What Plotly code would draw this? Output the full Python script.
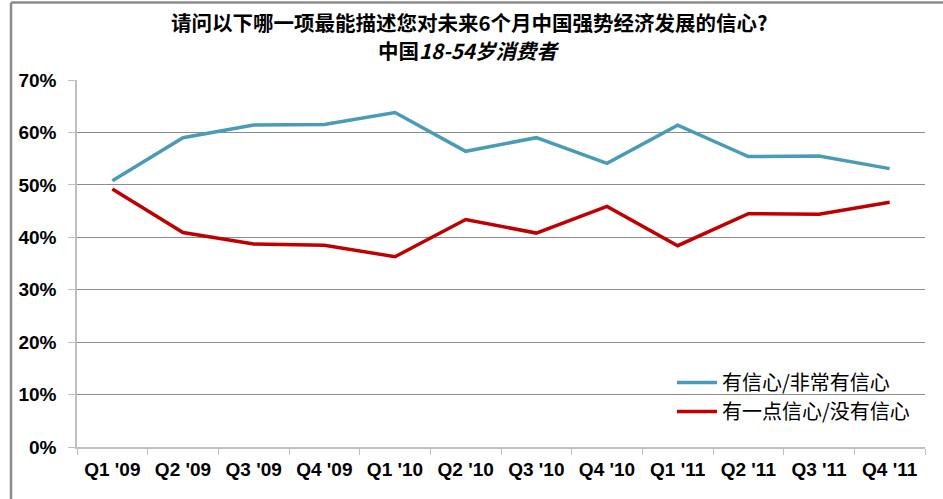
import plotly.graph_objects as go

categories = ["Q1 '09", "Q2 '09", "Q3 '09", "Q4 '09", "Q1 '10", "Q2 '10",
              "Q3 '10", "Q4 '10", "Q1 '11", "Q2 '11", "Q3 '11", "Q4 '11"]
confident = [0.508, 0.590, 0.614, 0.615, 0.638, 0.564, 0.590, 0.541, 0.614, 0.554, 0.555, 0.531]
not_confident = [0.492, 0.409, 0.387, 0.385, 0.363, 0.434, 0.408, 0.459, 0.384, 0.445, 0.444, 0.467]
series_names = ["有信心/非常有信心", "有一点信心/没有信心"]
y_ticks = [0, 0.1, 0.2, 0.3, 0.4, 0.5, 0.6, 0.7]
y_tick_labels = ["0%", "10%", "20%", "30%", "40%", "50%", "60%", "70%"]
title_line1 = "请问以下哪一项最能描述您对未来6个月中国强势经济发展的信心?"
title_line2 = "中国<i>18-54岁消费者</i>"

W, H = 943, 499
L, R, T, B = 77, 18, 80, 52
pw, ph = W - L - R, H - T - B

def px_x(x):
    return (x - L) / pw

def px_y(y):
    return (H - B - y) / ph

fig = go.Figure()
fig.add_trace(go.Scatter(x=categories, y=confident, mode="lines", name=series_names[0],
                         line=dict(color="#4A9BB5", width=3.5)))
fig.add_trace(go.Scatter(x=categories, y=not_confident, mode="lines", name=series_names[1],
                         line=dict(color="#C00000", width=3.5)))

tick_font = dict(family="Liberation Sans, Arial, sans-serif", size=19, color="#000000", weight="bold")

fig.update_layout(
    width=W, height=H,
    margin=dict(l=L, r=R, t=T, b=B),
    paper_bgcolor="white", plot_bgcolor="white",
    showlegend=True,
    legend=dict(x=px_x(672), y=px_y(363), xanchor="left", yanchor="top",
                bgcolor="rgba(0,0,0,0)",
                font=dict(family="Noto Sans CJK SC, sans-serif", size=20, color="#000000"),
                itemwidth=40),
    xaxis=dict(
        type="category", showgrid=False, tickson="boundaries",
        ticks="outside", ticklen=6, tickcolor="#bfbfbf",
        showline=True, linecolor="#bfbfbf", linewidth=1.5,
        tickfont=tick_font,
        ticklabelstandoff=4,
        range=[-0.5, len(categories) - 0.5],
        fixedrange=True,
    ),
    yaxis=dict(
        range=[0, 0.7], tickvals=y_ticks, ticktext=y_tick_labels,
        showgrid=True, gridcolor="#8c8c8c", gridwidth=1.2,
        ticks="outside", ticklen=7, tickcolor="#bfbfbf",
        showline=True, linecolor="#bfbfbf", linewidth=1.5,
        zeroline=False,
        tickfont=tick_font,
        ticklabelstandoff=8,
        fixedrange=True,
    ),
    annotations=[
        dict(text="<b>" + title_line1 + "</b>", xref="paper", yref="paper",
             x=px_x(469), y=px_y(22), xanchor="center", yanchor="middle", showarrow=False,
             font=dict(family="Noto Sans CJK SC, sans-serif", size=20.5, color="#000000")),
        dict(text="<b>" + title_line2 + "</b>", xref="paper", yref="paper",
             x=px_x(468), y=px_y(50), xanchor="center", yanchor="middle", showarrow=False,
             font=dict(family="Noto Sans CJK SC, sans-serif", size=20.5, color="#000000")),
    ],
    shapes=[
        dict(type="line", xref="paper", yref="paper", x0=px_x(11), x1=px_x(943),
             y0=px_y(2.5), y1=px_y(2.5), line=dict(color="#8c8c8c", width=2.5)),
        dict(type="line", xref="paper", yref="paper", x0=px_x(11), x1=px_x(11),
             y0=px_y(2.5), y1=px_y(499), line=dict(color="#8c8c8c", width=2.5)),
    ],
)

fig.write_html("out.html", config={"displayModeBar": False},
               post_script="document.body.style.margin='0';document.body.style.padding='0';")
